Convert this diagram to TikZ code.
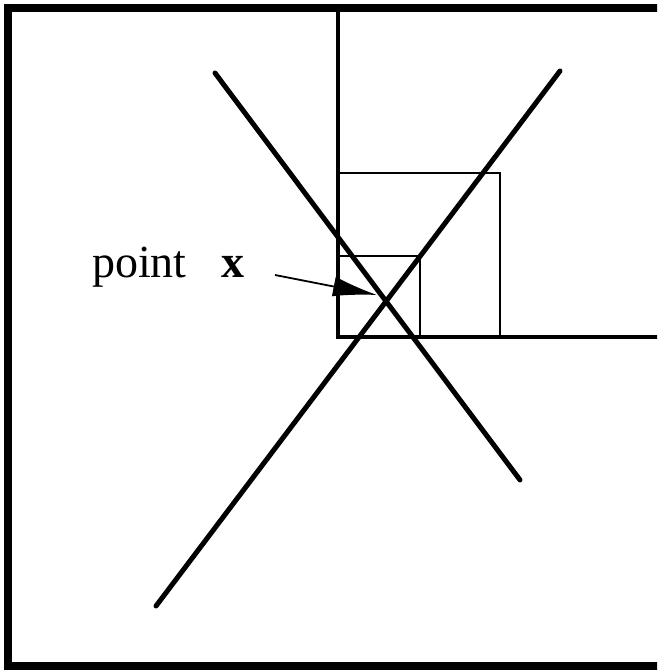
\documentclass[tikz,border=0pt]{standalone}
\usepackage{fontspec}
\setmainfont{Liberation Serif}
\usetikzlibrary{arrows.meta}
\begin{document}
\begin{tikzpicture}[x=1pt,y=1pt,
  frame/.style={line width=8pt},
  axis/.style={line width=4pt},
  sq/.style={line width=2.5pt},
  diag/.style={line width=5pt,line cap=round},
  ptr/.style={line width=1.8pt,-{Latex[length=44pt,width=20pt]}},
  lbl/.style={font=\fontsize{46}{50}\selectfont,inner sep=0pt,anchor=base west}]
\useasboundingbox (0,0) rectangle (657,670);
\clip (0,0) rectangle (657,670);
\fill[white] (0,0) rectangle (657,670);
% frame (right side beyond view)
\draw[frame] (700,661.5) -- (8,661.5) -- (8,3.5) -- (700,3.5);
% axes
\coordinate (o) at (338,333);
\draw[axis] (338,661.5) -- (o) -- (700,333);
% squares
\draw[sq] (o) rectangle (500,497);
\draw[sq] (o) rectangle (420,414);
% crossing lines
\coordinate (a1) at (215,597);
\coordinate (a2) at (520,190);
\coordinate (b1) at (560,599);
\coordinate (b2) at (156,64);
\draw[diag] (a1) -- (a2);
\draw[diag] (b1) -- (b2);
% label and arrow
\node[lbl] (label) at (92,392) {point\hspace{0.75em}\textbf{x}};
\coordinate (s) at (275,395);
\coordinate (x) at (377,375);
\draw[ptr] (s) -- (x);
\end{tikzpicture}
\end{document}
